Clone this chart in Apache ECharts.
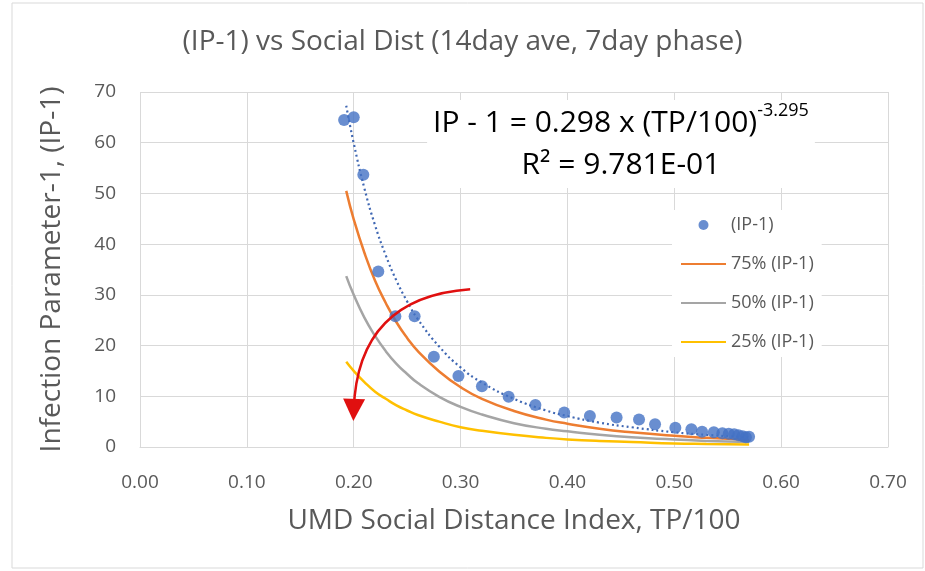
<!DOCTYPE html>
<html>
<head>
<meta charset="utf-8">
<script src="https://cdn.jsdelivr.net/npm/echarts@6/dist/echarts.min.js"></script>
<style>
  html, body { margin: 0; padding: 0; background: #fff; }
  #main { width: 925px; height: 571px; }
</style>
</head>
<body>
<div id="main"></div>
<script>
// measured points: social distance index vs (IP-1)
const sdX = [0.191, 0.200, 0.209, 0.223, 0.239, 0.257, 0.275, 0.298, 0.320, 0.345, 0.370, 0.397,
  0.421, 0.446, 0.467, 0.482, 0.501, 0.516, 0.526, 0.537, 0.545, 0.551, 0.556, 0.560, 0.564, 0.567, 0.570];
const ipY = [64.5, 65.0, 53.7, 34.6, 25.8, 25.8, 17.8, 14.0, 12.0, 9.9, 8.3, 6.8,
  6.1, 5.8, 5.4, 4.5, 3.8, 3.5, 3.0, 2.9, 2.7, 2.6, 2.5, 2.3, 2.1, 1.9, 2.0];

// curves
const fitX = [0.193, 0.20, 0.21, 0.22, 0.23, 0.24, 0.25, 0.26, 0.28, 0.30, 0.32, 0.35, 0.38, 0.40, 0.43, 0.46, 0.50, 0.53, 0.57];
const trendY = [67.3, 59.9, 51.0, 43.7, 37.8, 32.8, 28.7, 25.2, 19.8, 15.7, 12.7, 9.5, 7.2, 6.1, 4.8, 3.9, 2.9, 2.4, 1.9];
const p75Y = [50.5, 44.9, 38.3, 32.8, 28.4, 24.6, 21.5, 18.9, 14.9, 11.8, 9.5, 7.1, 5.4, 4.6, 3.6, 2.9, 2.2, 1.8, 1.4];
const p50Y = [33.7, 30.0, 25.5, 21.9, 18.9, 16.4, 14.4, 12.6, 9.9, 7.9, 6.4, 4.7, 3.6, 3.1, 2.4, 1.9, 1.5, 1.2, 1.0];
const p25Y = [16.8, 15.0, 12.8, 10.9, 9.5, 8.2, 7.2, 6.3, 5.0, 3.9, 3.2, 2.4, 1.8, 1.5, 1.2, 1.0, 0.7, 0.6, 0.5];

// arrow annotation, start and end in data units
const arrowFrom = [0.309, 31.1];
const arrowTo = [0.200, 7.3];

const FONT = 'Open Sans';
const TXT = '#595959';

function pairs(xs, ys) {
  return xs.map((x, i) => [x, ys[i]]);
}

const chart = echarts.init(document.getElementById('main'), null, { renderer: 'canvas' });

// line entries in the legend: hide the marker dot, keep the stroke
const noDot = { opacity: 0 };

chart.setOption({
  animation: false,
  backgroundColor: '#fff',
  textStyle: { fontFamily: FONT },
  title: {
    text: '(IP-1) vs Social Dist (14day ave, 7day phase)',
    left: 'center',
    top: 23,
    textStyle: { fontFamily: FONT, fontSize: 28, fontWeight: 'normal', color: TXT },
  },
  grid: { left: 140, right: 37, top: 92, bottom: 124 },
  legend: {
    orient: 'vertical',
    left: 672,
    top: 210,
    itemWidth: 45,
    itemHeight: 10,
    itemGap: 21,
    padding: [6, 8],
    backgroundColor: '#fff',
    data: [
      { name: '(IP-1)' },
      { name: '75% (IP-1)', itemStyle: noDot },
      { name: '50% (IP-1)', itemStyle: noDot },
      { name: '25% (IP-1)', itemStyle: noDot },
    ],
    textStyle: { fontFamily: FONT, fontSize: 18, color: TXT },
  },
  xAxis: {
    type: 'value',
    min: 0,
    max: 0.7,
    interval: 0.1,
    name: 'UMD Social Distance Index, TP/100',
    nameLocation: 'middle',
    nameGap: 60,
    nameTextStyle: { fontFamily: FONT, fontSize: 28, color: TXT },
    axisLine: { show: true, lineStyle: { color: '#d9d9d9', width: 1 } },
    axisTick: { show: false },
    axisLabel: { fontFamily: FONT, fontSize: 19, color: TXT, margin: 26, formatter: v => v.toFixed(2) },
    splitLine: { show: true, lineStyle: { color: '#d9d9d9', width: 1 } },
  },
  yAxis: {
    type: 'value',
    min: 0,
    max: 70,
    interval: 10,
    name: 'Infection Parameter-1, (IP-1)',
    nameLocation: 'middle',
    nameGap: 74,
    nameTextStyle: { fontFamily: FONT, fontSize: 28, color: TXT },
    axisLine: { show: false },
    axisTick: { show: false },
    axisLabel: { fontFamily: FONT, fontSize: 19, color: TXT, margin: 24 },
    splitLine: { show: true, lineStyle: { color: '#d9d9d9', width: 1 } },
  },
  graphic: [
    {
      type: 'rect',
      shape: { x: 12, y: 3, width: 911, height: 565 },
      style: { fill: 'none', stroke: '#d9d9d9', lineWidth: 1 },
      silent: true,
      z: -10,
    },
    {
      type: 'text',
      x: 621,
      y: 100,
      z: 100,
      style: {
        text: '{a|IP - 1 = 0.298 x (TP/100)}{s|-3.295}\n{a|R² = 9.781E-01}',
        align: 'center',
        backgroundColor: '#fff',
        padding: [2, 6],
        rich: {
          a: { fontFamily: FONT, fontSize: 30, color: TXT, lineHeight: 42 },
          s: { fontFamily: FONT, fontSize: 18, color: TXT, verticalAlign: 'top', lineHeight: 42, padding: [0, 0, 16, 0] },
        },
      },
    },
  ],
  series: [
    {
      name: 'trend',
      type: 'line',
      data: pairs(fitX, trendY),
      smooth: true,
      symbol: 'none',
      lineStyle: { color: '#3f67b3', width: 2.2, type: [2, 3] },
      z: 3,
    },
    {
      name: '75% (IP-1)',
      type: 'line',
      data: pairs(fitX, p75Y),
      smooth: true,
      symbol: 'none',
      color: '#ed7d31',
      lineStyle: { color: '#ed7d31', width: 2.5 },
    },
    {
      name: '50% (IP-1)',
      type: 'line',
      data: pairs(fitX, p50Y),
      smooth: true,
      symbol: 'none',
      color: '#a5a5a5',
      lineStyle: { color: '#a5a5a5', width: 2.5 },
    },
    {
      name: '25% (IP-1)',
      type: 'line',
      data: pairs(fitX, p25Y),
      smooth: true,
      symbol: 'none',
      color: '#ffc000',
      lineStyle: { color: '#ffc000', width: 2.5 },
    },
    {
      name: 'arrow',
      type: 'lines',
      coordinateSystem: 'cartesian2d',
      silent: true,
      symbol: ['none', 'triangle'],
      symbolSize: 22,
      lineStyle: { color: '#e01010', width: 2.5, opacity: 1, curveness: -0.45 },
      data: [{ coords: [arrowFrom, arrowTo] }],
      z: 6,
    },
    {
      name: '(IP-1)',
      type: 'scatter',
      data: pairs(sdX, ipY),
      symbol: 'circle',
      symbolSize: 12,
      itemStyle: { color: '#4472c4' },
      z: 5,
    },
  ],
});
</script>
</body>
</html>
